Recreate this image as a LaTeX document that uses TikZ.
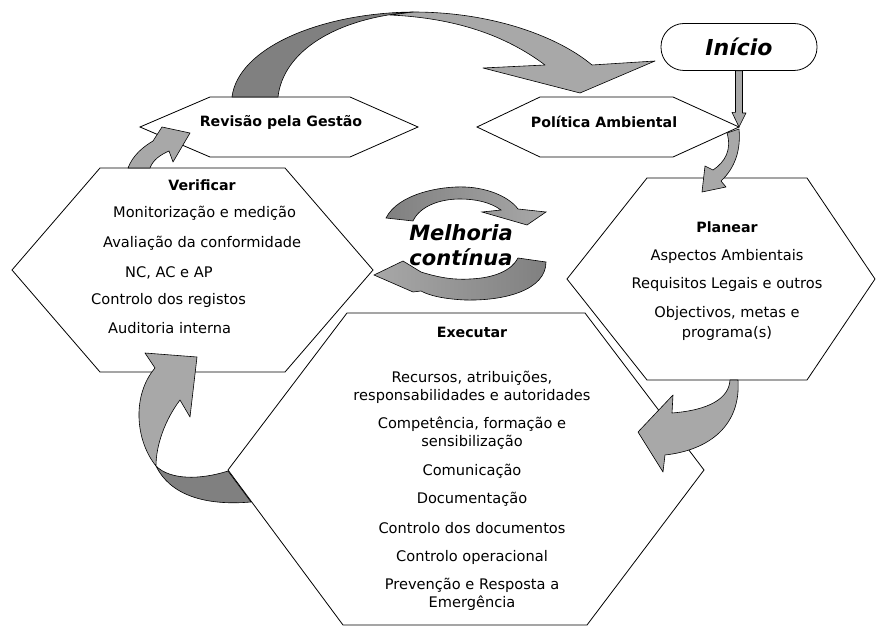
\documentclass[tikz,border=0pt]{standalone}
\usepackage{fontspec}
\setmainfont{DejaVu Sans}
\usepackage{xcolor}
\definecolor{arrowlight}{RGB}{168,168,168}
\definecolor{arrowdark}{RGB}{128,128,128}

\begin{document}
\begin{tikzpicture}[x=1pt,y=-1pt,
    hexa/.style={draw,fill=white,line width=0.8pt},
    blockarrow/.style={draw,fill=arrowlight,line width=0.6pt,line join=round},
    blockdark/.style={draw,fill=arrowdark,line width=0.6pt,line join=round},
    title/.style={font=\fontsize{14.2}{17}\selectfont\bfseries,inner sep=0pt},
    item/.style={font=\fontsize{14.6}{18}\selectfont,align=center,inner sep=0pt}]
    \useasboundingbox (0,0) rectangle (876,628);

    \draw[hexa] (140,127) -- (210,97) -- (350,97) -- (418,127) -- (350,157) -- (210,157) -- cycle;
    \draw[hexa] (477,127) -- (540,97) -- (673,97) -- (739,127) -- (673,157) -- (540,157) -- cycle;
    \coordinate (polr) at (739,127);
    \draw[hexa] (12,270) -- (100,168) -- (285,168) -- (373,270) -- (285,372) -- (100,372) -- cycle;
    \draw[hexa] (567,279) -- (647,178) -- (807,178) -- (875,279) -- (807,380) -- (647,380) -- cycle;
    \draw[hexa] (228,470) -- (347,313) -- (585,313) -- (704,470) -- (587,625) -- (343,625) -- cycle;

    \node[draw,line width=0.8pt,rounded corners=23pt,minimum width=156pt,minimum height=47pt,
        font=\fontsize{22}{26}\selectfont\bfseries\itshape] (inicio) at (739,47) {Início};

    \node[title] (revisao) at (281,122) {Revisão pela Gestão};
    \node[title] (politica) at (604,122) {Política Ambiental};

    \node[title] (verificar) at (202,185) {Verificar};
    \node[item,anchor=west] (monit) at (113,213) {Monitorização e medição};
    \node[item,anchor=west] (avalia) at (103,243) {Avaliação da conformidade};
    \node[item,anchor=west] (ncacap) at (125,273) {NC, AC e AP};
    \node[item,anchor=west] (registos) at (91,300) {Controlo dos registos};
    \node[item,anchor=west] (auditoria) at (108,328) {Auditoria interna};

    \node[title] (planear) at (727,227) {Planear};
    \node[item] (aspectos) at (727,256) {Aspectos Ambientais};
    \node[item] (requisitos) at (727,284) {Requisitos Legais e outros};
    \node[item,font=\fontsize{14.6}{20}\selectfont] (objectivos) at (727,323) {Objectivos, metas e\\programa(s)};

    \node[title] (executar) at (472,332) {Executar};
    \node[item] (recursos) at (472,387) {Recursos, atribuições,\\responsabilidades e autoridades};
    \node[item] (competencia) at (472,433) {Competência, formação e\\sensibilização};
    \node[item] (comunicacao) at (472,471) {Comunicação};
    \node[item] (documentacao) at (472,499) {Documentação};
    \node[item] (documentos) at (472,528) {Controlo dos documentos};
    \node[item] (operacional) at (472,557) {Controlo operacional};
    \node[item] (emergencia) at (472,594) {Prevenção e Resposta a\\Emergência};

    \draw[blockarrow] (413,12) .. controls (495,12) and (560,38) .. (592,65) -- (655,61) -- (580,93)
        -- (483,68) -- (545,65) .. controls (505,35) and (455,18) .. (390,15) -- cycle;
    \draw[blockdark] (232,97) .. controls (238,48) and (320,13) .. (413,12)
        .. controls (335,18) and (283,52) .. (278,97) -- cycle;

    \draw[blockarrow] ([xshift=-3.5pt]inicio.south) -- ++(0,41.5) -- ++(-3.5,0) -- (polr)
        -- ++(7,-14) -- ++(-3.5,0) -- ([xshift=3.5pt]inicio.south) -- cycle;

    \draw[blockarrow] (727,133) .. controls (732,150) and (725,162) .. (713,170) -- (705,166)
        -- (702,192) -- (726,187) -- (721,181) .. controls (735,168) and (741,150) .. (739,129) -- cycle;

    \draw[blockarrow] (730,380) .. controls (729,398) and (710,410) .. (672,413) -- (673,395)
        -- (638,432) -- (663,472) -- (665,455) .. controls (710,450) and (741,425) .. (738,380) -- cycle;

    \draw[blockarrow] (156,466) .. controls (135,440) and (132,395) .. (155,368) -- (145,353)
        -- (197,357) -- (190,417) -- (180,400) .. controls (165,420) and (156,445) .. (156,466) -- cycle;
    \draw[blockdark] (156,466) .. controls (170,495) and (205,506) .. (251,502) -- (228,471)
        .. controls (200,480) and (170,480) .. (156,466) -- cycle;

    \draw[blockarrow] (128,168) .. controls (133,155) and (143,147) .. (153,141) -- (162,127)
        -- (190,133) -- (173,162) -- (169,151) .. controls (160,155) and (153,160) .. (150,168) -- cycle;

    \draw[draw,line width=0.6pt,left color=arrowdark,right color=arrowlight]
        (386,218) .. controls (398,194) and (440,186) .. (465,187) .. controls (490,188) and (510,198) .. (518,209)
        -- (546,212) -- (527,225) -- (482,212) -- (501,210) .. controls (490,202) and (475,199) .. (460,199)
        .. controls (440,199) and (420,206) .. (413,221) -- cycle;
    \draw[draw,line width=0.6pt,left color=arrowlight,right color=arrowdark]
        (546,262) .. controls (546,290) and (505,301) .. (465,300) .. controls (445,299) and (430,296) .. (421,291)
        -- (413,292) -- (374,275) -- (403,261) -- (421,272) .. controls (440,278) and (455,280) .. (470,279)
        .. controls (495,278) and (512,270) .. (518,258) -- cycle;

    \node[font=\fontsize{21}{25}\selectfont\bfseries\itshape,align=center,inner sep=0pt] (melhoria) at (461,245) {Melhoria\\contínua};
\end{tikzpicture}
\end{document}
